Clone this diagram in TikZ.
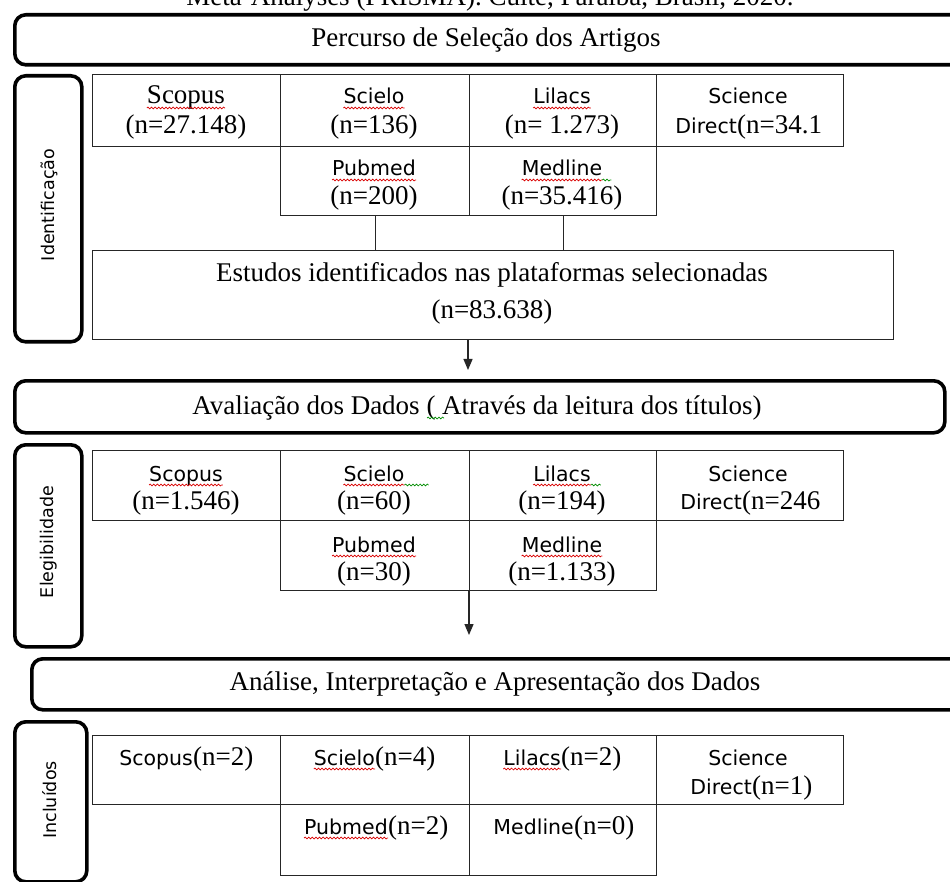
\documentclass[tikz,border=0pt]{standalone}
\usepackage{fontspec}
\setmainfont{Liberation Serif}
\newfontfamily\dvs{DejaVu Sans}
\usetikzlibrary{arrows.meta,decorations.pathmorphing}
\newcommand\myss{\dvs\fontsize{20.5}{25}\selectfont}
\newcommand\myrm{\fontsize{27}{32}\selectfont}
\newcommand\myside{\dvs\fontsize{17.5}{20}\selectfont}
\begin{document}
\begin{tikzpicture}[x=1pt,y=-1pt,
  hdr/.style={draw, line width=3.6pt, rounded corners=11pt, inner sep=0, font=\myrm},
  side/.style={draw, line width=3.6pt, rounded corners=11pt, inner sep=0, font=\myside},
  cell/.style={draw=black!85, line width=1.3pt, anchor=north west, inner sep=0},
  ss/.style={font=\myss, inner sep=0, anchor=base},
  rm/.style={font=\myrm, inner sep=0, anchor=base},
  squig/.style={draw=red!85!black, line width=0.7pt, decorate, decoration={snake, amplitude=0.9pt, segment length=3.6pt}},
  gsquig/.style={draw=green!55!black, line width=0.7pt, decorate, decoration={snake, amplitude=0.9pt, segment length=3.6pt}},
  conn/.style={draw=black!85, line width=1.3pt},
  arr/.style={draw=black!85, line width=1.3pt, -{Triangle[length=11pt,width=9pt]}}
]
\useasboundingbox (0,0) rectangle (950,882);

% cut-off caption at top
\node[rm, anchor=base] (cap) at (490,6) {Meta-Analyses (PRISMA). Cuité, Paraíba, Brasil, 2020.};

% ---------- Section 1 ----------
\node[hdr, minimum width=948pt, minimum height=50pt, anchor=north west] (h1) at (13,13) {};
\node[rm] (h1t) at (486,47) {Percurso de Seleção dos Artigos};

\node[side, minimum width=67pt, minimum height=266pt, anchor=north west] (s1) at (13,74) {};
\node[font=\myside, rotate=90, inner sep=0] (s1t) at (49,205) {Identificação};

\node[cell, minimum width=188pt, minimum height=72pt] (i1) at (92,74) {};
\node[cell, minimum width=189pt, minimum height=72pt] (i2) at (280,74) {};
\node[cell, minimum width=187pt, minimum height=72pt] (i3) at (469,74) {};
\node[cell, minimum width=187pt, minimum height=72pt] (i4) at (656,74) {};
\node[cell, minimum width=189pt, minimum height=69pt] (i5) at (280,146) {};
\node[cell, minimum width=187pt, minimum height=69pt] (i6) at (469,146) {};

\node[rm] (i1a) at (186,104) {Scopus};
\node[rm] (i1b) at (186,134) {(n=27.148)};
\node[ss] (i2a) at (374,104) {Scielo};
\node[rm] (i2b) at (374,134) {(n=136)};
\node[ss] (i3a) at (562,104) {Lilacs};
\node[rm] (i3b) at (562,134) {(n= 1.273)};
\node[ss] (i4a) at (748,104) {Science};
\node[ss, anchor=base east] (i4b) at (737,134) {Direct};
\node[rm, anchor=base west] (i4c) at (i4b.base east) {(n=34.1};
\node[ss] (i5a) at (374,176) {Pubmed};
\node[rm] (i5b) at (374,205) {(n=200)};
\node[ss] (i6a) at (562,176) {Medline};
\node[rm] (i6b) at (562,205) {(n=35.416)};

\node[cell, minimum width=801pt, minimum height=89pt] (ib) at (92,250) {};
\node[rm] (iba) at (492,282) {Estudos identificados nas plataformas selecionadas};
\node[rm] (ibb) at (492,319) {(n=83.638)};

\draw[conn] (i5.south) -- (i5.south |- ib.north);
\draw[conn] (i6.south) -- (i6.south |- ib.north);

% squiggles section 1
\draw[squig] ([yshift=-4pt]i1a.base west) -- ([yshift=-4pt]i1a.base east);
\draw[squig] ([yshift=-4pt]i2a.base west) -- ([yshift=-4pt]i2a.base east);
\draw[squig] ([yshift=-4pt]i3a.base west) -- ([yshift=-4pt]i3a.base east);
\draw[squig] ([yshift=-4pt]i5a.base west) -- ([yshift=-4pt]i5a.base east);
\draw[squig] ([yshift=-4pt]i6a.base west) -- ([yshift=-4pt]i6a.base east);
\draw[gsquig] ([yshift=-4pt]i6a.base east) -- ([yshift=-4pt,xshift=9pt]i6a.base east);

% ---------- Section 2 ----------
\node[hdr, minimum width=930pt, minimum height=52pt, anchor=north west] (h2) at (13,379) {};
\node[rm] (h2t) at (477,414) {Avaliação dos Dados ( Através da leitura dos títulos)};
\draw[gsquig] (427,418) -- (444,418);

\coordinate (a1s) at (468,370);
\draw[arr] (ib.south -| a1s) -- (a1s);

\node[side, minimum width=67pt, minimum height=202pt, anchor=north west] (s2) at (13,443) {};
\node[font=\myside, rotate=90, inner sep=0] (s2t) at (49,542) {Elegibilidade};

\node[cell, minimum width=188pt, minimum height=70pt] (e1) at (92,450) {};
\node[cell, minimum width=189pt, minimum height=70pt] (e2) at (280,450) {};
\node[cell, minimum width=187pt, minimum height=70pt] (e3) at (469,450) {};
\node[cell, minimum width=187pt, minimum height=70pt] (e4) at (656,450) {};
\node[cell, minimum width=189pt, minimum height=70pt] (e5) at (280,520) {};
\node[cell, minimum width=187pt, minimum height=70pt] (e6) at (469,520) {};

\node[ss] (e1a) at (186,481) {Scopus};
\node[rm] (e1b) at (186,509) {(n=1.546)};
\node[ss] (e2a) at (374,481) {Scielo};
\node[rm] (e2b) at (374,509) {(n=60)};
\node[ss] (e3a) at (562,481) {Lilacs};
\node[rm] (e3b) at (562,509) {(n=194)};
\node[ss] (e4a) at (748,481) {Science};
\node[ss, anchor=base east] (e4b) at (742,509) {Direct};
\node[rm, anchor=base west] (e4c) at (e4b.base east) {(n=246};
\node[ss] (e5a) at (374,552) {Pubmed};
\node[rm] (e5b) at (374,580) {(n=30)};
\node[ss] (e6a) at (562,552) {Medline};
\node[rm] (e6b) at (562,580) {(n=1.133)};

\draw[squig] ([yshift=-4pt]e1a.base west) -- ([yshift=-4pt]e1a.base east);
\draw[squig] ([yshift=-4pt]e2a.base west) -- ([yshift=-4pt]e2a.base east);
\draw[gsquig] ([yshift=-4pt]e2a.base east) -- ([yshift=-4pt,xshift=24pt]e2a.base east);
\draw[squig] ([yshift=-4pt]e3a.base west) -- ([yshift=-4pt]e3a.base east);
\draw[gsquig] ([yshift=-4pt]e3a.base east) -- ([yshift=-4pt,xshift=10pt]e3a.base east);
\draw[squig] ([yshift=-4pt]e5a.base west) -- ([yshift=-4pt]e5a.base east);
\draw[squig] ([yshift=-4pt]e6a.base west) -- ([yshift=-4pt]e6a.base east);

\coordinate (a2s) at (469,635);
\draw[arr] (a2s |- e5.south) -- (a2s);

% ---------- Section 3 ----------
\node[hdr, minimum width=932pt, minimum height=51pt, anchor=north west] (h3) at (30,657) {};
\node[rm] (h3t) at (495,690) {Análise, Interpretação e Apresentação dos Dados};

\node[side, minimum width=72pt, minimum height=160pt, anchor=north west] (s3) at (13,720) {};
\node[font=\myside, rotate=90, inner sep=0] (s3t) at (50,800) {Incluídos};

\node[cell, minimum width=188pt, minimum height=69pt] (c1) at (92,735) {};
\node[cell, minimum width=189pt, minimum height=69pt] (c2) at (280,735) {};
\node[cell, minimum width=187pt, minimum height=69pt] (c3) at (469,735) {};
\node[cell, minimum width=187pt, minimum height=69pt] (c4) at (656,735) {};
\node[cell, minimum width=189pt, minimum height=71pt] (c5) at (280,804) {};
\node[cell, minimum width=187pt, minimum height=71pt] (c6) at (469,804) {};

\node[ss, anchor=base east] (c1a) at (193,765) {Scopus};
\node[rm, anchor=base west] (c1b) at (c1a.base east) {(n=2)};
\node[ss, anchor=base east] (c2a) at (375,765) {Scielo};
\node[rm, anchor=base west] (c2b) at (c2a.base east) {(n=4)};
\node[ss, anchor=base east] (c3a) at (561,765) {Lilacs};
\node[rm, anchor=base west] (c3b) at (c3a.base east) {(n=2)};
\node[ss] (c4a) at (748,765) {Science};
\node[ss, anchor=base east] (c4b) at (752,794) {Direct};
\node[rm, anchor=base west] (c4c) at (c4b.base east) {(n=1)};
\node[ss, anchor=base east] (c5a) at (388,834) {Pubmed};
\node[rm, anchor=base west] (c5b) at (c5a.base east) {(n=2)};
\node[ss, anchor=base east] (c6a) at (574,834) {Medline};
\node[rm, anchor=base west] (c6b) at (c6a.base east) {(n=0)};

\draw[squig] ([yshift=-4pt]c2a.base west) -- ([yshift=-4pt]c2a.base east);
\draw[squig] ([yshift=-4pt]c3a.base west) -- ([yshift=-4pt]c3a.base east);
\draw[squig] ([yshift=-4pt]c5a.base west) -- ([yshift=-4pt]c5a.base east);
\end{tikzpicture}
\end{document}
